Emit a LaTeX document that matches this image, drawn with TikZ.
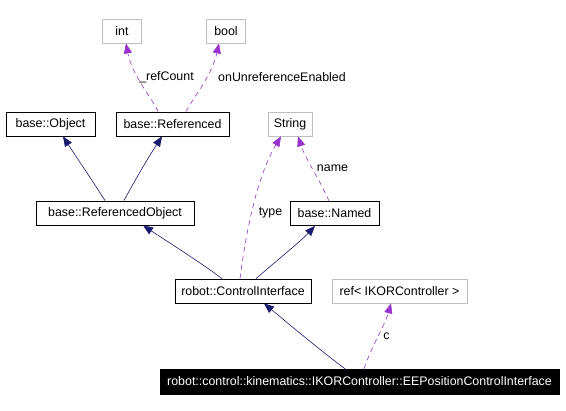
\documentclass[tikz,border=0pt]{standalone}
\usepackage{fontspec}
\setmainfont{Liberation Sans}
\usetikzlibrary{arrows.meta}
\definecolor{navy}{HTML}{191970}
\definecolor{purp}{HTML}{9A32CD}
\definecolor{gbox}{HTML}{BFBFBF}
\begin{document}
\begin{tikzpicture}[x=1pt,y=-1pt,
  every node/.style={font=\fontsize{12.4}{14}\selectfont, inner sep=0pt},
  cls/.style={draw=black, fill=white, minimum height=24pt, inner xsep=4pt, line width=0.8pt},
  ext/.style={draw=gbox, fill=white, minimum height=24pt, inner xsep=4pt, line width=0.8pt},
  cur/.style={draw=black, fill=black, text=white, minimum height=25pt, inner xsep=4pt},
  inh/.style={draw=navy, line width=0.6pt, -{Triangle[length=10pt,width=8pt]}},
  use/.style={draw=purp, line width=0.6pt, dashed, dash pattern=on 5pt off 4pt, -{Triangle[length=10pt,width=8pt]}},
  lbl/.style={fill=none, anchor=center}]
\useasboundingbox (0,0) rectangle (566,411);
\node[ext, minimum width=39pt] (int) at (122,31) {int};
\node[ext, minimum width=39pt] (bool) at (226,31) {bool};
\node[cls, minimum width=89pt] (obj) at (50.5,124) {base::Object};
\node[cls, minimum width=113pt] (refd) at (172.5,124) {base::Referenced};
\node[ext, minimum width=44pt] (str) at (290,124) {String};
\node[cls, minimum width=158pt] (robj) at (115,213) {base::ReferencedObject};
\node[cls, minimum width=89pt] (named) at (334.5,213.5) {base::Named};
\node[cls, minimum width=136pt] (ci) at (243,291) {robot::ControlInterface};
\node[ext, minimum width=135pt] (ref) at (399.5,291) {ref< IKORController >};
\node[cur, minimum width=399pt] (ee) at (359.5,381.5) {robot::control::kinematics::IKORController::EEPositionControlInterface};
% inheritance
\draw[inh] (robj.north -| 105,0) .. controls (92,180) and (75,155) .. (obj.south -| 63,0);
\draw[inh] (robj.north -| 124,0) .. controls (135,180) and (148,158) .. (refd.south -| 162,0);
\draw[inh] (ci.north -| 222,0) .. controls (200,262) and (165,240) .. (robj.south -| 143,0);
\draw[inh] (ci.north -| 256,0) .. controls (275,262) and (300,242) .. (named.south -| 315,0);
\draw[inh] (ee.north -| 345,0) .. controls (320,350) and (290,325) .. (ci.south -| 264,0);
% usage
\draw[use] (refd.north -| 158,0) .. controls (150,95) and (132,75) .. (int.south -| 126,0);
\draw[use] (refd.north -| 186,0) .. controls (195,95) and (212,75) .. (bool.south -| 219,0);
\draw[use] (ci.north -| 240,0) .. controls (245,240) and (255,180) .. (str.south -| 281,0);
\draw[use] (named.north -| 329,0) .. controls (320,180) and (306,160) .. (str.south -| 298,0);
\draw[use] (ee.north -| 364,0) .. controls (372,345) and (385,325) .. (ref.south -| 391,0);
% labels
\node[lbl] (l1) at (166.5,77) {\_refCount};
\node[lbl] (l2) at (282,77) {onUnreferenceEnabled};
\node[lbl] (l3) at (270.5,213) {type};
\node[lbl] (l4) at (332.5,168) {name};
\node[lbl] (l5) at (386.5,336) {c};
\end{tikzpicture}
\end{document}
